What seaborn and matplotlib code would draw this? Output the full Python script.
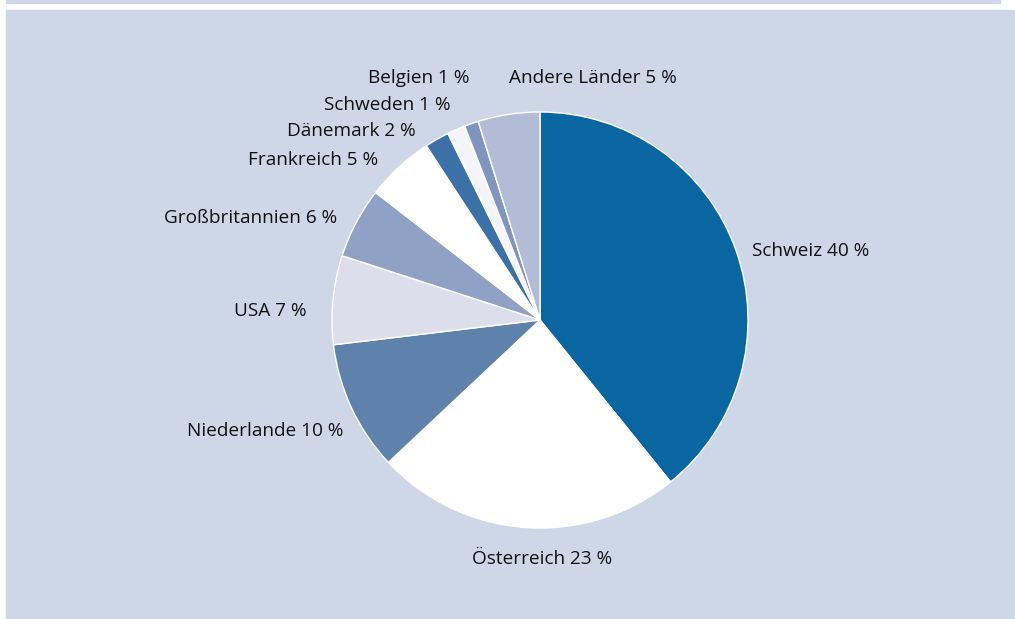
import matplotlib
matplotlib.use("Agg")
import matplotlib.pyplot as plt
import seaborn as sns
from matplotlib.patches import Rectangle

# Data (slice sizes, labels as printed)
countries = ["Schweiz", "Österreich", "Niederlande", "USA", "Großbritannien",
             "Frankreich", "Dänemark", "Schweden", "Belgien", "Andere Länder"]
shares = [39.2, 23.8, 10.1, 6.9, 5.5, 5.3, 1.9, 1.4, 1.1, 4.8]
share_labels = [40, 23, 10, 7, 6, 5, 2, 1, 1, 5]
colors = ["#0a66a0", "#ffffff", "#5f82ad", "#dcdfeb", "#8fa1c4",
          "#ffffff", "#3b71a7", "#f4f5f9", "#7f95be", "#b3bcd6"]

# label placement (pie radius units) and alignment
label_pos = [(1.02, 0.33), (0.01, -1.15), (-0.945, -0.535), (-1.12, 0.045),
             (-0.975, 0.49), (-0.78, 0.77), (-0.595, 0.91), (-0.43, 1.035),
             (-0.34, 1.165), (-0.15, 1.165)]
label_ha = ["left", "center", "right", "right", "right",
            "right", "right", "right", "right", "left"]

sns.set_theme(style="white")
plt.rcParams["font.family"] = ["Open Sans", "DejaVu Sans"]

bg = "#cdd7e8"
fig = plt.figure(figsize=(10.15, 6.19), dpi=100)
fig.patch.set_facecolor("white")
fig.patches.append(Rectangle((6 / 1015, 1 - 3 / 619), 994 / 1015, 3 / 619,
                             transform=fig.transFigure, color=bg, zorder=-10))
fig.patches.append(Rectangle((6 / 1015, 0), 1009 / 1015, 609 / 619,
                             transform=fig.transFigure, color=bg, zorder=-10))

ax = fig.add_axes([0, 0, 1, 1])
ax.set_zorder(1)
ax.set_facecolor("none")
ax.pie(shares, colors=colors, startangle=90, counterclock=False, radius=1,
       wedgeprops=dict(edgecolor="white", linewidth=1.0))
ax.set_aspect("auto")
ax.set_xlim(-540 / 208, 475 / 208)
ax.set_ylim(-299 / 208, 320 / 208)
ax.axis("off")

for name, val, (x, y), ha in zip(countries, share_labels, label_pos, label_ha):
    ax.text(x, y, f"{name} {val} %", ha=ha, va="center", fontsize=13.7,
            color="#111111")

fig.savefig("out.png", dpi=100)
